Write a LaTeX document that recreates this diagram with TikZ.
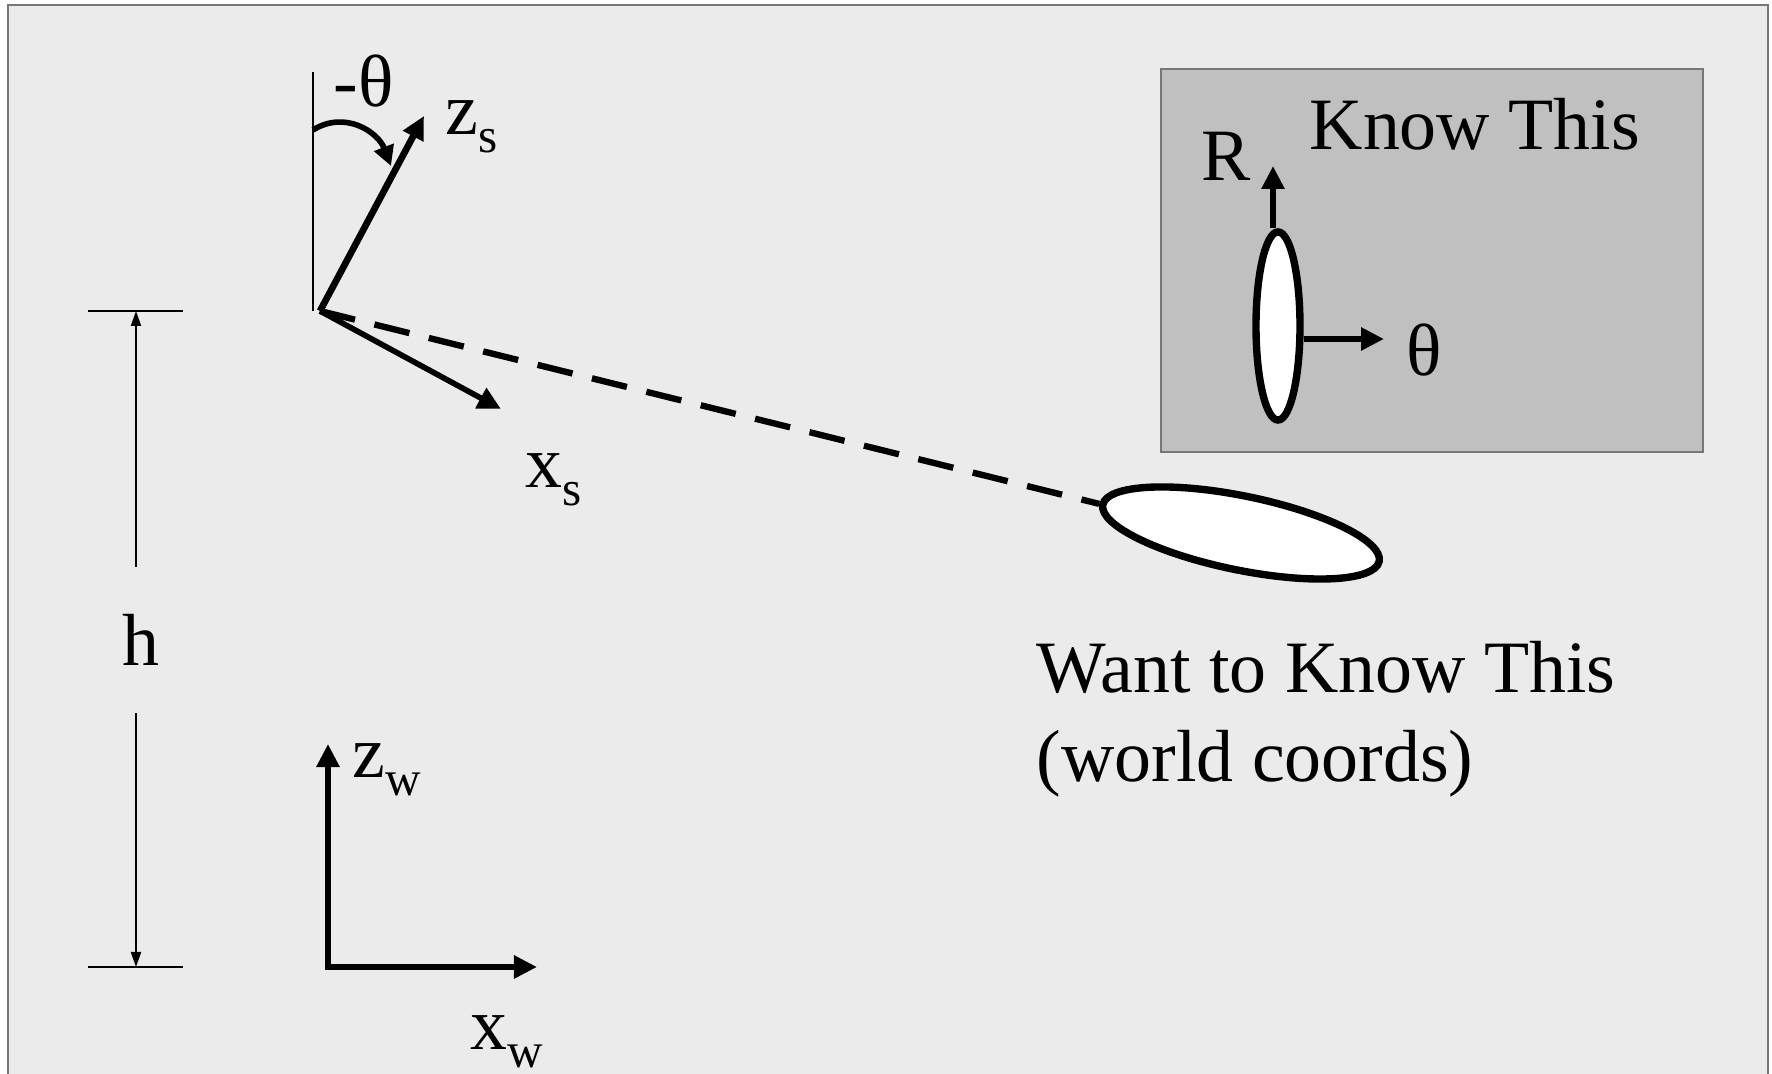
\documentclass[tikz,border=0pt]{standalone}
\usepackage{fontspec}
\setmainfont{Liberation Serif}
\usetikzlibrary{arrows.meta, positioning, shapes.geometric}
\definecolor{panelbg}{HTML}{EBEBEB}
\definecolor{knownbg}{HTML}{C0C0C0}
\definecolor{rimgray}{HTML}{777777}
\newcommand{\axlbl}[2]{#1\raisebox{-0.24em}{\fontsize{14pt}{14pt}\selectfont #2}}

\begin{document}
\begin{tikzpicture}[x=0.01cm, y=-0.01cm,
    lbl/.style={font=\fontsize{21pt}{25pt}\selectfont, inner sep=0, anchor=base west},
    thk/.style={line width=1.9pt, -{Triangle[length=0.23cm, width=0.22cm]}},
    thn/.style={line width=0.6pt, -{Triangle[length=0.15cm, width=0.1cm]}},
    blob/.style={draw, ellipse, fill=white, line width=2.1pt, inner sep=0}]
\clip (0,0) rectangle (1772,1074);
\fill[white] (0,0) rectangle (1772,1074);
\draw[rimgray, fill=panelbg, line width=0.7pt] (8,5) rectangle (1768,1100);

% known-this panel
\draw[rimgray, fill=knownbg, line width=0.4pt] (1161,69) rectangle (1703,452);
\node[lbl] (known) at (1309,150) {Know This};
\node[blob, minimum width=0.44cm, minimum height=1.88cm] (sobj) at (1278,326) {};
\coordinate (rtip) at (1273,166);
\coordinate (thtip) at (1384,339);
\draw[thk] (sobj.north -| rtip) -- (rtip);
\draw[thk] (sobj.east |- thtip) -- (thtip);
\node[lbl] (rlbl) at (1201,181) {R};
\node[lbl] (thlbl) at (1406,376) {θ};

% sensor frame
\coordinate (cam) at (320,311);
\coordinate (vtop) at (313,72);
\coordinate (vbot) at (313,311);
\coordinate (zstip) at (424,116);
\coordinate (xstip) at (501,409);
\coordinate (arcbeg) at (313,130);
\coordinate (arcend) at (391,166);
\draw[line width=0.6pt] (vtop) -- (vbot);
\draw[thk, line width=1.6pt, -{Triangle[length=0.2cm, width=0.2cm]}]
    (arcbeg) .. controls (345,110) and (378,132) .. (arcend);
\draw[thk] (cam) -- (zstip);
\draw[thk, line width=1.6pt] (cam) -- (xstip);
\node[lbl] (mth) at (333,107) {-θ};
\node[lbl] (zs) at (445,135) {\axlbl{z}{s}};
\node[lbl] (xs) at (525,488) {\axlbl{x}{s}};

% object in world
\node[blob, minimum width=2.82cm, minimum height=0.74cm, rotate=-11.6] (wobj) at (1241,533) {};
\draw[line width=1.8pt, dash pattern=on 0.36cm off 0.2cm] (cam) -- (wobj.west);
\node[lbl] (want) at (1036,693) {Want to Know This};
\node[lbl] (coords) at (1036,782) {(world coords)};

% height
\coordinate (htop) at (136,311);
\coordinate (hbot) at (136,967);
\draw[line width=0.6pt] (88,311) -- (183,311);
\draw[line width=0.6pt] (88,967) -- (183,967);
\node[font=\fontsize{21pt}{25pt}\selectfont, inner sep=0, minimum height=1.45cm] (hlbl) at (141,640) {h};
\draw[thn] (hlbl.north -| htop) -- (htop);
\draw[thn] (hlbl.south -| hbot) -- (hbot);

% world frame
\coordinate (worig) at (328,967);
\coordinate (zwtip) at (328,744);
\coordinate (xwtip) at (537,967);
\draw[line width=1.9pt, {Triangle[length=0.23cm, width=0.22cm]}-{Triangle[length=0.23cm, width=0.22cm]}]
    (zwtip) -- (worig) -- (xwtip);
\node[lbl] (zw) at (352,778) {\axlbl{z}{w}};
\node[lbl] (xw) at (470,1050) {\axlbl{x}{w}};
\end{tikzpicture}
\end{document}
